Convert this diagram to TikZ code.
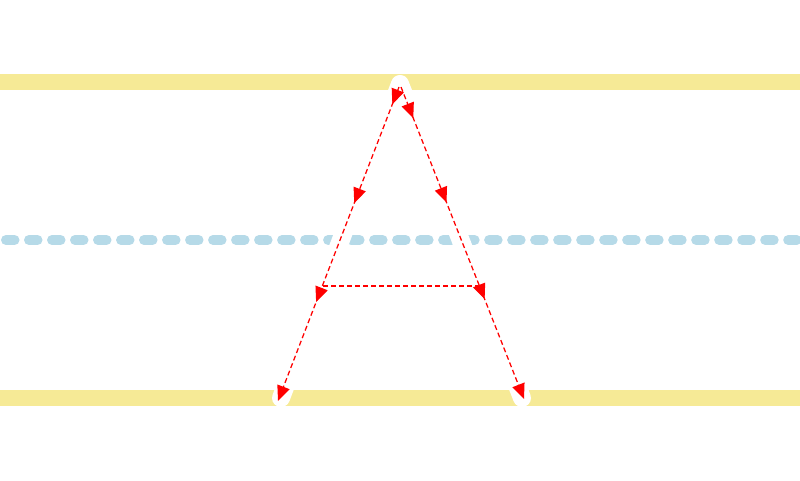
\documentclass[tikz,border=0pt]{standalone}
\usepackage{tikz}
\usetikzlibrary{
    arrows.meta,                      % Triangle tips
    decorations.markings              % flechas a lo largo del trazo
}
\definecolor{guide_yellow}{RGB}{246,234,150}
\definecolor{guide_blue}{RGB}{182,218,232}
\tikzset{
    baseline_guide/.style={
        draw=guide_yellow, line width=0.4cm
    },
    mid_guide/.style={
        draw=guide_blue, line width=0.25cm, line cap=round,
        dash pattern=on 0.2125cm off 0.3625cm
    },
    letterbody/.style={
        draw=white, line width=0.45cm, line cap=round, line join=round
    },
    strokepath/.style={
        draw=red, line width=0.9pt,
        dash pattern=on 0.125cm off 0.075cm,
        -{Triangle[length=0.38cm, width=0.32cm]}
    },
    crossbar/.style={
        draw=red, line width=0.9pt,
        dash pattern=on 0.125cm off 0.075cm
    },
    tip_at/.style={
        postaction={decorate, decoration={markings,
            mark=at position #1 with {\arrow{Triangle[length=0.38cm, width=0.32cm]}}}}
    }
}

\begin{document}
\begin{tikzpicture}[x=0.025cm, y=-0.025cm]
        \useasboundingbox (0,0) rectangle (800,480);

        % --- Lineas guia ---
        \coordinate (top_l) at (0,82);
        \coordinate (top_r) at (800,82);
        \coordinate (mid_l) at (6,240);
        \coordinate (mid_r) at (800,240);
        \coordinate (base_l) at (0,398);
        \coordinate (base_r) at (800,398);
        \draw[baseline_guide] (top_l) -- (top_r);
        \draw[baseline_guide] (base_l) -- (base_r);
        \draw[mid_guide] (mid_l) -- (mid_r);

        % --- Cuerpo de la letra A ---
        \coordinate (apex) at (400,84);
        \coordinate (foot_l) at (281,398);
        \coordinate (foot_r) at (522,398);
        \coordinate (bar_l) at (323,286);
        \coordinate (bar_r) at (478,286);
        \draw[letterbody] (foot_l) -- (apex) -- (foot_r);
        \draw[letterbody] (bar_l) -- (bar_r);

        % --- Orden de trazos ---
        \coordinate (start_l) at (399,87);
        \coordinate (start_r) at (401,87);
        \coordinate (end_l) at (278,401);
        \coordinate (end_r) at (524,399);
        \draw[strokepath, tip_at=0.055, tip_at=0.37, tip_at=0.685] (start_l) -- (end_l);
        \draw[strokepath, tip_at=0.1, tip_at=0.37, tip_at=0.68] (start_r) -- (end_r);
        \draw[crossbar] (bar_l) -- (bar_r);

    \end{tikzpicture}
\end{document}
